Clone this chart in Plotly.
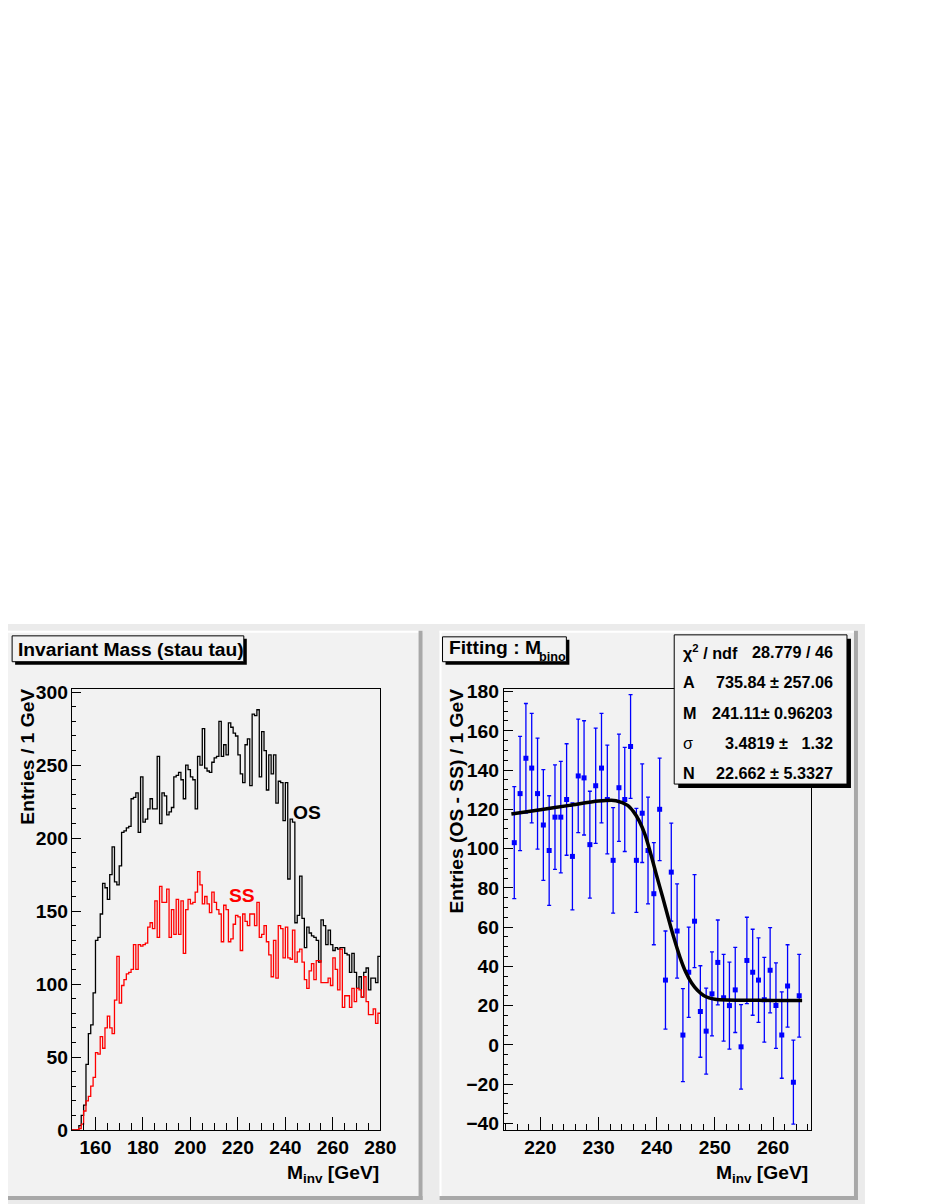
import plotly.graph_objects as go

# The photographed page behaves as ~945 x 1216 px shrunk onto 930 x 1204,
# and the body keeps its default 8 px margin; reference pixel positions are
# mapped through these factors.
SX, SY = 930 / 945, 1204 / 1216
OFF = 8
W, H = 945 - 2 * OFF, 1216 - 2 * OFF
FS = 1 / 0.987          # font / length scale
FONT = "Liberation Sans"
PAD = "#f2f2f2"

# ---------------- data: left panel (1 GeV bins from 150 to 280) ----------------
BIN_LOW = 150
BIN_WIDTH = 1
OS_COUNTS = [
    0, 0, 0, 3, 10, 17, 45, 66, 72, 94,            # 150-159
    130, 132, 148, 169, 166, 158, 175, 194, 170, 168,  # 160-169
    181, 204, 205, 207, 208, 227, 228, 231, 204, 242,  # 170-179
    211, 213, 220, 227, 220, 220, 256, 210, 231, 229,  # 180-189
    216, 218, 221, 242, 243, 245, 240, 227, 250, 247,  # 190-199
    242, 240, 220, 256, 250, 275, 248, 246, 245, 252,  # 200-209
    255, 256, 280, 256, 264, 257, 279, 276, 272, 270,  # 210-219
    257, 244, 238, 264, 268, 236, 285, 284, 288, 242,  # 220-229
    273, 260, 233, 257, 244, 257, 224, 239, 238, 212,  # 230-239
    238, 172, 213, 211, 142, 147, 174, 145, 125, 139,  # 240-249
    135, 133, 132, 130, 115, 144, 140, 127, 137, 127,  # 250-259
    123, 125, 124, 125, 125, 121, 120, 108, 121, 108,  # 260-269
    97, 105, 91, 108, 111, 96, 104, 104, 101, 119,     # 270-279
]
SS_COUNTS = [
    0, 0, 0, 1, 4, 13, 20, 23, 30, 36,              # 150-159
    53, 52, 64, 56, 70, 78, 70, 66, 89, 119,         # 160-169
    87, 99, 103, 107, 108, 110, 127, 110, 127, 126,  # 170-179
    127, 128, 139, 142, 138, 157, 132, 167, 156, 156,  # 180-189
    165, 132, 151, 134, 158, 134, 157, 121, 151, 158,  # 190-199
    155, 156, 163, 177, 168, 155, 160, 155, 149, 163,  # 200-209
    156, 151, 148, 129, 154, 151, 129, 131, 141, 147,  # 210-219
    146, 123, 148, 143, 140, 148, 148, 140, 156, 132,  # 220-229
    134, 140, 129, 120, 105, 130, 104, 140, 138, 118,  # 230-239
    139, 118, 117, 137, 115, 122, 124, 115, 103, 97,   # 240-249
    109, 114, 103, 116, 116, 101, 101, 101, 104, 99,   # 250-259
    118, 110, 96, 124, 84, 92, 92, 84, 97, 88,         # 260-269
    97, 96, 91, 105, 88, 79, 79, 83, 73, 80,           # 270-279
]

# ---------------- data: right panel (OS - SS, 1 GeV bins from 215 to 265) ----------------
DIFF_LOW = 215
DIFF_BIN_WIDTH = 1
DIFF_VALUES = [
    103, 128, 146, 141, 128, 112, 99, 116, 116, 125,
    96, 137, 136, 102, 132, 141, 125, 94, 131, 125,
    152, 94, 118, 99, 77, 120, 33, 88, 58, 5,
    37, 63, 17, 7, 26, 42, 24, 20, 28, -1,
    43, 37, 33, 23, 38, 20, 5, 30, -19, 25,
]
DIFF_ERRORS = [
    28.5, 29.1, 27.9, 27.9, 28.3, 28.2, 27.9, 26.6, 28.4, 28.4,
    27.2, 28.9, 29.1, 27.2, 29.4, 27.9, 27.7, 26.9, 27.3, 26.5,
    26.4, 26.5, 25.1, 27.2, 26.0, 26.1, 25.0, 25.0, 24.0, 23.7,
    23.0, 23.7, 23.3, 21.9, 21.4, 21.6, 22.1, 22.2, 21.7, 21.5,
    22.0, 21.9, 21.5, 21.6, 21.7, 21.8, 22.0, 21.0, 21.4, 21.1,
]

# fitted curve
FIT_X = [215, 220, 225, 230, 233, 235, 236, 237, 238, 239, 240, 241, 242,
         243, 244, 245, 246, 247, 248, 249, 250, 252, 255, 260, 265]
FIT_Y = [117.6, 119.8, 122.0, 124.2, 124.4, 122.0, 118.8, 114.0, 107.0, 97.0,
         86.0, 75.5, 64.5, 54.0, 44.6, 37.0, 31.5, 27.8, 25.3, 23.9, 23.2,
         22.8, 22.7, 22.66, 22.66]

STAT_NAMES = ["χ<sup>2</sup> / ndf", "A", "M", "σ", "N"]
STAT_VALUES = ["28.779 / 46", "735.84 ± 257.06", "241.11± 0.96203",
               "3.4819 ±\u00a0\u00a0\u00a01.32", "22.662 ± 5.3327"]


# ---------------- helpers (reference pixels -> paper fractions) ----------------
def px(x):
    return (x / SX - OFF) / W


def py(y):
    return 1 - (y / SY - OFF) / H


def L(v):
    return v * FS


shapes = []


def rect(x0, y0, x1, y1, fill, line=None, lw=0, layer="below"):
    shapes.append(dict(
        type="rect", xref="paper", yref="paper",
        x0=px(x0), x1=px(x1), y0=py(y1), y1=py(y0),
        fillcolor=fill, line=dict(color=line or fill, width=lw),
        layer=layer,
    ))


# canvas and pads
rect(0, 620, 866, 1204, "#ebebeb")
for (a, b) in [(4, 423), (440, 859)]:
    rect(a, 627, b, 1199, PAD)
    rect(a, 627, b, 629, "#ffffff")
    rect(a, 627, a + 2, 1199, "#ffffff")
    rect(b - 4, 627, b, 1199, "#a8a8a8")
    rect(a, 1195, b, 1199, "#a8a8a8")

# title boxes with shadow
rect(15, 635, 247, 661, "#000000", layer="above")
rect(12, 632, 244, 658, PAD, "#000000", 1, layer="above")
rect(446, 636, 570, 661, "#000000", layer="above")
rect(443, 633, 567, 658, PAD, "#000000", 1, layer="above")
# stats box with shadow
rect(679, 635, 852, 785, "#000000", layer="above")
rect(675, 631, 848, 781, PAD, "#000000", 1, layer="above")

# ---------------- traces ----------------
edges = [BIN_LOW + i * BIN_WIDTH for i in range(len(OS_COUNTS) + 1)]
fig = go.Figure()
fig.add_trace(go.Scatter(
    x=edges, y=OS_COUNTS + [OS_COUNTS[-1]], mode="lines", line_shape="hv",
    line=dict(color="#000000", width=1.3), xaxis="x", yaxis="y",
    hoverinfo="skip", showlegend=False,
))
fig.add_trace(go.Scatter(
    x=edges, y=SS_COUNTS + [SS_COUNTS[-1]], mode="lines", line_shape="hv",
    line=dict(color="#ff0000", width=1.3), xaxis="x", yaxis="y",
    hoverinfo="skip", showlegend=False,
))

diff_x = [DIFF_LOW + (i + 0.5) * DIFF_BIN_WIDTH for i in range(len(DIFF_VALUES))]
fig.add_trace(go.Scatter(
    x=diff_x, y=DIFF_VALUES, mode="markers",
    marker=dict(symbol="square", size=5, color="#0000ff"),
    error_y=dict(type="data", array=DIFF_ERRORS, color="#0000ff",
                 thickness=1.3, width=2),
    xaxis="x2", yaxis="y2", hoverinfo="skip", showlegend=False,
))
fig.add_trace(go.Scatter(
    x=FIT_X, y=FIT_Y, mode="lines", line_shape="spline",
    line=dict(color="#000000", width=3.5, smoothing=0.8),
    xaxis="x2", yaxis="y2", hoverinfo="skip", showlegend=False,
))

# ---------------- axes ----------------
TF = dict(family=FONT, size=L(19), color="#000000", weight="bold")


def axis(domain, rng, dtick, ticklen, mdtick, mlen, anchor, standoff):
    return dict(
        domain=domain, range=rng, anchor=anchor, autorange=False,
        ticks="inside", dtick=dtick, tick0=0, ticklen=L(ticklen), tickwidth=1,
        tickcolor="#000000",
        minor=dict(ticks="inside", dtick=mdtick, ticklen=L(mlen), tickwidth=1,
                   tickcolor="#000000", showgrid=False),
        showline=True, mirror=True, linecolor="#000000", linewidth=1,
        showgrid=False, zeroline=False, tickfont=TF,
        ticklabelstandoff=standoff, fixedrange=True,
    )


ybot, ytop = py(1128.7), py(685)
layout = dict(
    width=W, height=H, margin=dict(l=0, r=0, t=0, b=0),
    paper_bgcolor="#ffffff", plot_bgcolor=PAD,
    xaxis=axis([px(71.7), px(380.7)], [150, 280], 20, 13, 5, 6.5, "y", 0),
    yaxis=axis([ybot, ytop], [0, 302.5], 50, 9, 10, 4.5, "x", -1),
    xaxis2=axis([px(504.3), px(811.7)], [213.69, 266.48], 10, 12.5, 2, 6, "y2", 0),
    yaxis2=axis([ybot, ytop], [-43.35, 181.5], 20, 9, 5, 4.5, "x2", 0),
    shapes=shapes,
)
fig.update_layout(**layout)

# ---------------- texts ----------------
ann = []


def text(t, x, y, size=19, xa="left", ya="middle", color="#000000", angle=0, bold=True):
    ann.append(dict(
        text=t, x=px(x), y=py(y), xref="paper", yref="paper",
        xanchor=xa, yanchor=ya, showarrow=False, textangle=angle,
        font=dict(family=FONT, size=L(size), color=color,
                  weight="bold" if bold else "normal"),
    ))


text("Invariant Mass (stau tau)", 16, 646)
text("Fitting : M", 447, 644)
text("bino", 537.5, 653, size=12.5)
text("OS", 307.5, 810, xa="center")
text("SS", 242.5, 893, xa="center", color="#ff0000")
text("Entries / 1 GeV", 27, 683, xa="center", ya="top", angle=-90)
text("Entries (OS - SS) / 1 GeV", 457, 683, xa="center", ya="top", angle=-90)
text("M<sub>inv</sub> [GeV]", 381, 1159, xa="right", ya="top")
text("M<sub>inv</sub> [GeV]", 811, 1159, xa="right", ya="top")

rows_y = [648, 678.5, 709.5, 740, 770]
for name, val, yy in zip(STAT_NAMES, STAT_VALUES, rows_y):
    text(name, 682, yy, size=16, bold=name not in ("σ",))
    text(val, 836, yy, size=16, xa="right")

fig.update_layout(annotations=ann)
fig.write_html("out.html", config={"displayModeBar": False, "staticPlot": True})
